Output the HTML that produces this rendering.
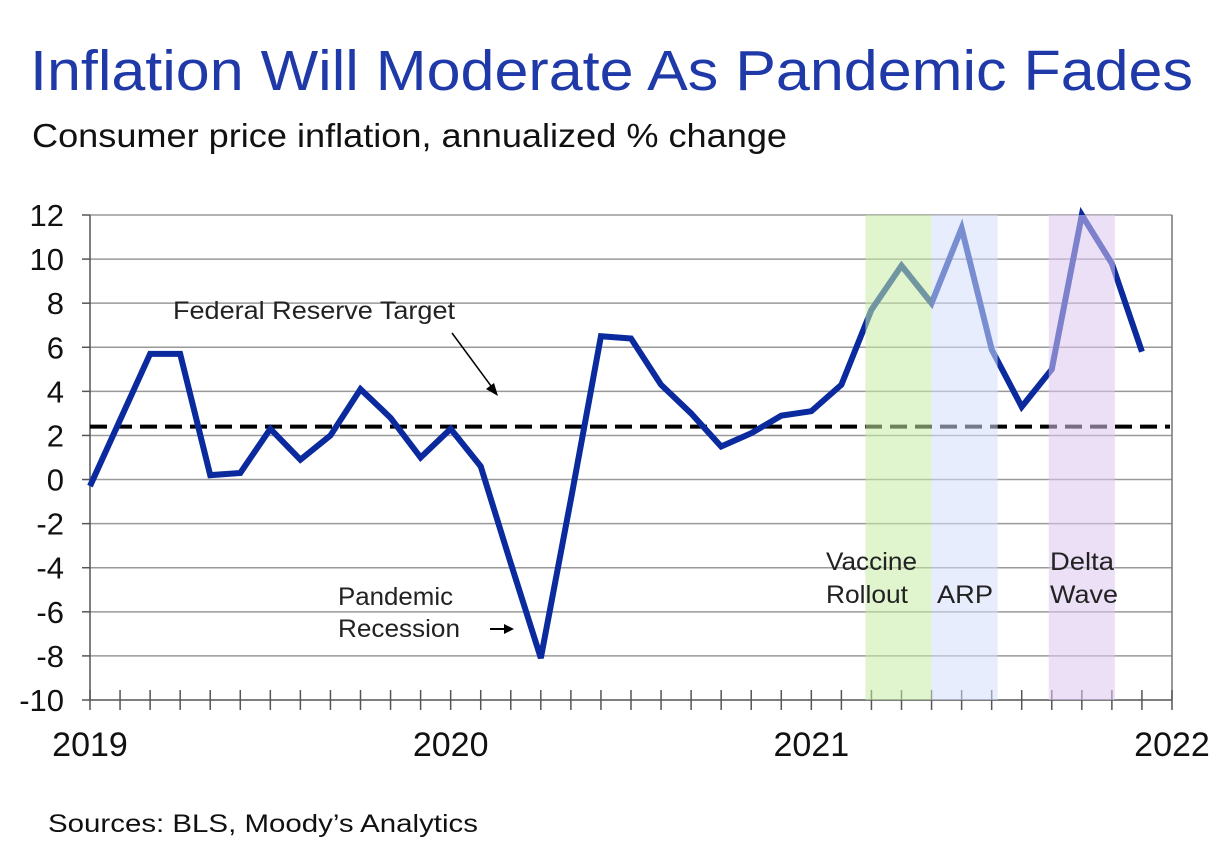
<!DOCTYPE html>
<html><head><meta charset="utf-8"><style>
body{margin:0;background:#fff;width:1230px;height:848px;overflow:hidden;font-family:"Liberation Sans",sans-serif}
</style></head><body>
<svg width="1230" height="848" id="c" font-family="Liberation Sans, sans-serif">
<text x="30" y="90" font-size="57" fill="#1f3aa8" textLength="1163" lengthAdjust="spacingAndGlyphs">Inflation Will Moderate As Pandemic Fades</text>
<text x="32" y="147" font-size="33" fill="#111" textLength="755" lengthAdjust="spacingAndGlyphs">Consumer price inflation, annualized % change</text>
<text x="48" y="832" font-size="25" fill="#111" textLength="430" lengthAdjust="spacingAndGlyphs">Sources: BLS, Moody’s Analytics</text>
<g id="plot"></g>
</svg>
<script>
const values=[-0.3,2.7,5.7,5.7,0.2,0.3,2.3,0.9,2.0,4.1,2.8,1.0,2.3,0.6,-3.8,-8.1,-0.9,6.5,6.4,4.3,3.0,1.5,2.1,2.9,3.1,4.3,7.7,9.7,8.0,11.4,5.9,3.3,5.0,12.0,9.8,5.8];
const yTicks=[12,10,8,6,4,2,0,-2,-4,-6,-8,-10];
const xYears=[2019,2020,2021,2022];
const target=2.4;
const shades=[{from:25.8,to:28,fill:"#c6eca4",name:"vaccine-rollout-shade"},{from:28,to:30.2,fill:"#d5defc",name:"arp-shade"},{from:31.9,to:34.1,fill:"#dcc7f0",name:"delta-wave-shade"}];
const NS="http://www.w3.org/2000/svg",g=document.getElementById('plot');
const X0=90,X1=1172,YT=215,YB=700;
const x=m=>X0+m*(X1-X0)/36;
const y=v=>YT+(12-v)*(YB-YT)/22;
function el(t,a,txt){const e=document.createElementNS(NS,t);for(const k in a)e.setAttribute(k,a[k]);if(txt!=null)e.textContent=txt;g.appendChild(e);return e;}
yTicks.forEach(v=>{
 const l=el('line',{x1:X0,x2:X1,y1:y(v),y2:y(v),stroke:v===-10?'#555':'#999','stroke-width':1.5});
 
 
 const tk=el('line',{x1:X0-8,x2:X0,y1:y(v),y2:y(v),stroke:'#555','stroke-width':1.5});
 
 
 const t=el('text',{x:64,y:y(v)+11,'text-anchor':'end','font-size':31,fill:'#111'},v);
 
 
});
const ax=el('line',{x1:X0,x2:X0,y1:YT,y2:YB,stroke:'#555','stroke-width':1.5});


const rx=el('line',{x1:X1,x2:X1,y1:YT,y2:YB,stroke:'#777','stroke-width':1.5});


for(let m=0;m<=36;m++){
 const t=el('line',{x1:x(m),x2:x(m),y1:YB-10,y2:YB+10,stroke:'#555','stroke-width':1.5});
 
 
}
xYears.forEach((yr,i)=>{
 const t=el('text',{x:x(i*12),y:756,'text-anchor':'middle','font-size':34,fill:'#111'},yr);
 
 
});
const dl=el('line',{x1:X0,x2:X1-2,y1:y(target),y2:y(target),stroke:'#000','stroke-width':4,'stroke-dasharray':'17,8'});


const p=el('polyline',{points:values.map((v,i)=>x(i)+','+y(v)).join(' '),fill:'none',stroke:'#0a2a9e','stroke-width':6,'stroke-linejoin':'miter'});


shades.forEach(s=>{
 const r=el('rect',{x:x(s.from),y:YT,width:x(s.to)-x(s.from),height:YB-YT,fill:s.fill,opacity:0.55});
 
 
});
const labels=[["Vaccine",826,570,91],["Rollout",826,603,82],["ARP",937,603,56],["Delta",1050,570,64],["Wave",1050,603,68],["Federal Reserve Target",173,319,282],["Pandemic",338,605,115],["Recession",338,637,122]];
labels.forEach(([t,lx,ly,w])=>{
 const e=el('text',{x:lx,y:ly,'font-size':25,fill:'#222',textLength:w,lengthAdjust:'spacingAndGlyphs'},t);
 
 
});
const a1=el('line',{x1:452,y1:333,x2:494,y2:390,stroke:'#000','stroke-width':1.5});


const h1=el('polygon',{points:'498,396 486,389 494,383',fill:'#000'});


const a2=el('line',{x1:490,y1:629,x2:506,y2:629,stroke:'#000','stroke-width':2});


const h2=el('polygon',{points:'514,629 504,624 504,634',fill:'#000'});


</script>
</body></html>
